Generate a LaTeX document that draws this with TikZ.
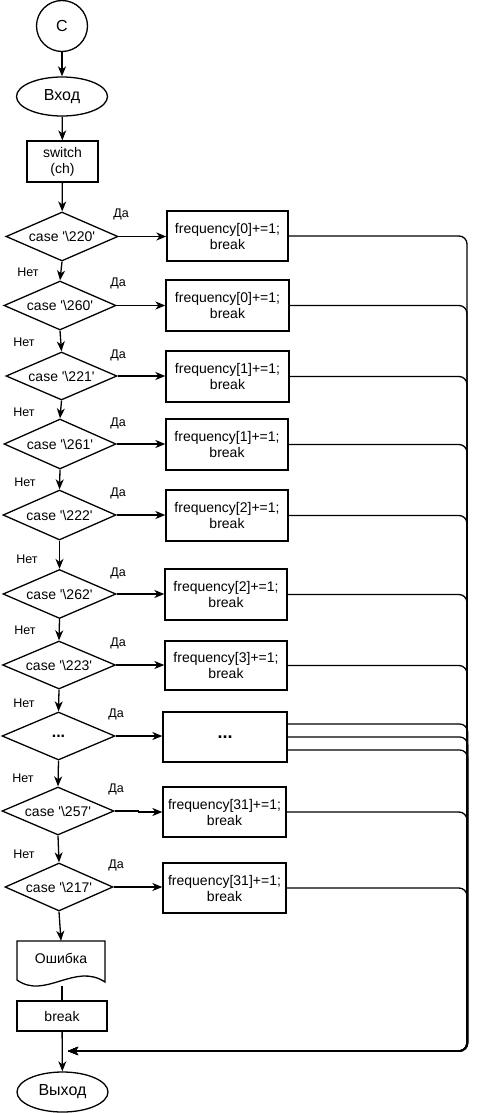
\documentclass[tikz,border=0pt]{standalone}
\usepackage{fontspec}
\setmainfont{Liberation Sans}
\usetikzlibrary{shapes.geometric,arrows.meta,calc}
\newcommand{\cs}[1]{case \textquotesingle\textbackslash #1\textquotesingle}
\begin{document}
\begin{tikzpicture}[x=1pt,y=-1pt,
  ln/.style={line width=1.3pt},
  arr/.style={ln,-{Stealth[length=10pt,width=8pt,inset=3pt]}},
  dia/.style={diamond,draw,line width=1.3pt,inner sep=0pt,aspect=2.3,font=\fontsize{14}{16}\selectfont},
  boxn/.style={rectangle,draw,line width=1.3pt,align=center,inner sep=0pt,font=\fontsize{14}{16}\selectfont},
  lbl/.style={font=\fontsize{12.5}{14}\selectfont,inner sep=0pt},
  term/.style={ellipse,draw,line width=1.3pt,inner sep=0pt,font=\fontsize{16}{18}\selectfont}
]
\useasboundingbox (0,0) rectangle (477,1113);
% top
\node[circle,draw,line width=1.3pt,minimum size=51pt,inner sep=0pt,font=\fontsize{16}{18}\selectfont] (c) at (62,26) {C};
\node[term,minimum width=91pt,minimum height=39pt] (in) at (62,96.5) {Вход};
\node[boxn,minimum width=71pt,minimum height=41pt] (sw) at (62.5,161.5) {switch\\(ch)};
% diamonds
\node[dia,minimum width=112pt,minimum height=49pt] (d1) at (62,236.5) {\cs{220}};
\node[dia,minimum width=112pt,minimum height=49pt] (d2) at (60,305.5) {\cs{260}};
\node[dia,minimum width=111pt,minimum height=48pt] (d3) at (61.5,376) {\cs{221}};
\node[dia,minimum width=112pt,minimum height=50pt] (d4) at (60,444) {\cs{261}};
\node[dia,minimum width=113pt,minimum height=50pt] (d5) at (59.5,515) {\cs{222}};
\node[dia,minimum width=113pt,minimum height=49pt] (d6) at (59.5,594) {\cs{262}};
\node[dia,minimum width=113pt,minimum height=48pt] (d7) at (59,665) {\cs{223}};
\node[dia,minimum width=113pt,minimum height=48pt,font=\fontsize{16}{18}\selectfont\bfseries] (d8) at (58.5,736) {...};
\node[dia,minimum width=112pt,minimum height=48pt] (d9) at (58,811) {\cs{257}};
\node[dia,minimum width=108pt,minimum height=48pt] (d10) at (59,887) {\cs{217}};
% boxes
\node[boxn,minimum width=121pt,minimum height=50pt] (b1) at (227.5,236) {frequency[0]+=1;\\break};
\node[boxn,minimum width=123pt,minimum height=51pt] (b2) at (227.5,305.5) {frequency[0]+=1;\\break};
\node[boxn,minimum width=123pt,minimum height=51pt] (b3) at (227.5,376.5) {frequency[1]+=1;\\break};
\node[boxn,minimum width=122pt,minimum height=51pt] (b4) at (227,444.5) {frequency[1]+=1;\\break};
\node[boxn,minimum width=122pt,minimum height=51pt] (b5) at (227,515.5) {frequency[2]+=1;\\break};
\node[boxn,minimum width=122pt,minimum height=51pt] (b6) at (226,594.5) {frequency[2]+=1;\\break};
\node[boxn,minimum width=122pt,minimum height=49pt] (b7) at (226,665.5) {frequency[3]+=1;\\break};
\node[boxn,minimum width=124pt,minimum height=50pt,font=\fontsize{18}{20}\selectfont\bfseries] (b8) at (225,737) {...};
\node[boxn,minimum width=123pt,minimum height=50pt] (b9) at (224.5,812) {frequency[31]+=1;\\break};
\node[boxn,minimum width=123pt,minimum height=50pt] (b10) at (224.5,888) {frequency[31]+=1;\\break};
% bottom
\node[inner sep=0pt,minimum width=88pt,minimum height=44pt] (err) at (61,963) {};
\node[font=\fontsize{14}{16}\selectfont,inner sep=0pt] (errt) at (61,958) {Ошибка};
\draw[ln,line join=miter] (17,980) -- (17,941) -- (105,941) -- (105,982)
   .. controls (75,962) and (45,1000) .. (17,980) -- cycle;
\coordinate (errb) at (62,986);
\node[boxn,minimum width=90pt,minimum height=30pt] (brk) at (62,1016) {break};
\node[term,minimum width=91pt,minimum height=40pt] (out) at (62.5,1092) {Выход};
\coordinate (ret) at (68,1051);
% vertical flow
\draw[arr] (c) -- (in);
\draw[arr] (in) -- (sw);
\draw[arr] (sw) -- (d1);
\draw[arr] (d1.south) -- (d2.north);
\draw[arr] (d2.south) -- (d3.north);
\draw[arr] (d3.south) -- (d4.north);
\draw[arr] (d4.south) -- (d5.north);
\draw[arr] (d5.south) -- (d6.north);
\draw[arr] (d6.south) -- (d7.north);
\draw[arr] (d7.south) -- (d8.north);
\draw[arr] (d8.south) -- (d9.north);
\draw[arr] (d9.south) -- (d10.north);
\draw[arr] (d10.south) -- (err.north);
\draw[ln] (errb) -- (brk.north);
\draw[arr] (brk) -- (out);
% yes branches
\foreach \i in {1,...,8,10} {\draw[arr] (d\i.east) -- (d\i.east -| b\i.west);}
\draw[arr] (d9.east) -- ++(24,0) |- (b9.west);
% return lines
\foreach \i in {1,...,7,9,10} {\draw[arr,rounded corners=8pt] (b\i.east) -- (b\i.east -| 467,0) -- (467,1051) -- (ret);}
\draw[arr,rounded corners=8pt] ($(b8.east)+(0,-13)$) -- ++(180pt,0) |- (ret);
\draw[arr,rounded corners=8pt] (b8.east) -- ++(180pt,0) |- (ret);
\draw[arr,rounded corners=8pt] ($(b8.east)+(0,13)$) -- ++(180pt,0) |- (ret);
% labels
\node[lbl] (y1) at (121,214) {Да};
\node[lbl] (y2) at (118,283) {Да};
\node[lbl] (y3) at (118,355) {Да};
\node[lbl] (y4) at (118,423) {Да};
\node[lbl] (y5) at (118,493) {Да};
\node[lbl] (y6) at (118,573) {Да};
\node[lbl] (y7) at (118,643) {Да};
\node[lbl] (y8) at (116,714) {Да};
\node[lbl] (y9) at (116,789) {Да};
\node[lbl] (y10) at (116,865) {Да};
\node[lbl] (n1) at (28,272) {Нет};
\node[lbl] (n2) at (24,342) {Нет};
\node[lbl] (n3) at (24,412) {Нет};
\node[lbl] (n4) at (25,482) {Нет};
\node[lbl] (n5) at (27,559) {Нет};
\node[lbl] (n6) at (25,630) {Нет};
\node[lbl] (n7) at (24,703) {Нет};
\node[lbl] (n8) at (23,778) {Нет};
\node[lbl] (n9) at (24,854) {Нет};
\end{tikzpicture}
\end{document}
